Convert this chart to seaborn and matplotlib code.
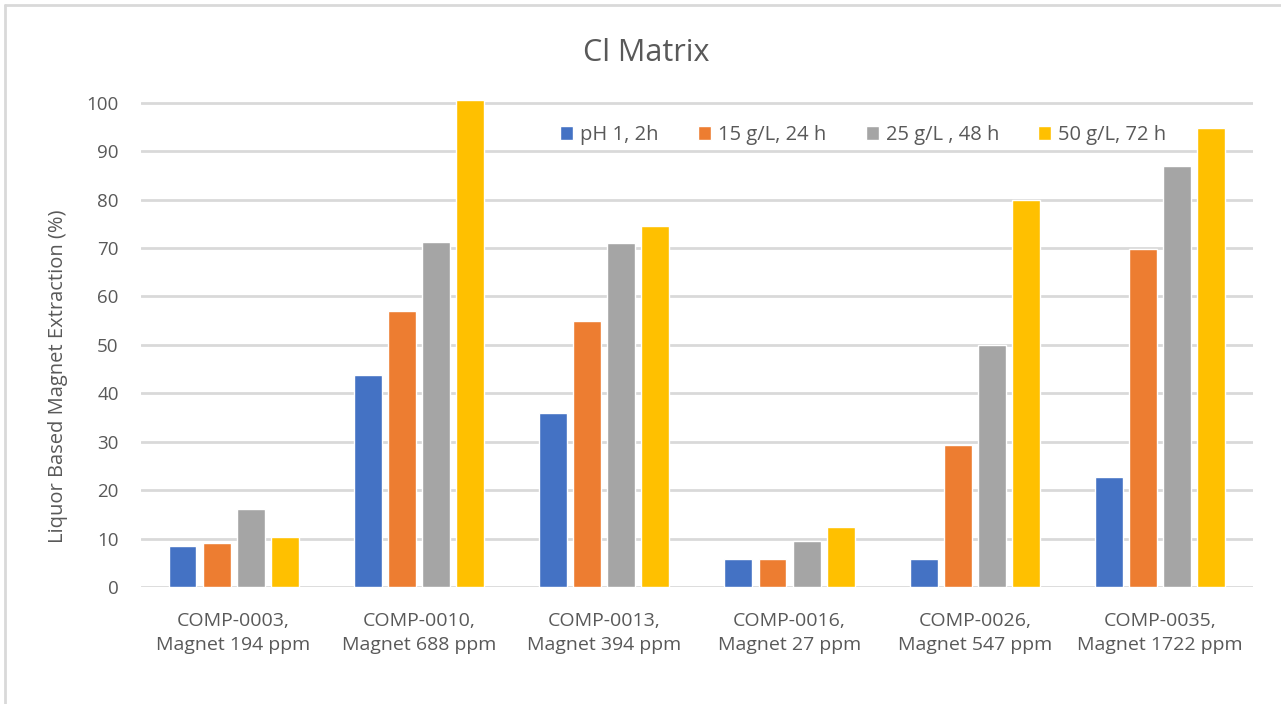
import pandas as pd
import matplotlib
matplotlib.use("Agg")
import matplotlib.pyplot as plt
import seaborn as sns
from matplotlib.lines import Line2D

# ----- data -----
samples = [
    "COMP-0003,\nMagnet 194 ppm",
    "COMP-0010,\nMagnet 688 ppm",
    "COMP-0013,\nMagnet 394 ppm",
    "COMP-0016,\nMagnet 27 ppm",
    "COMP-0026,\nMagnet 547 ppm",
    "COMP-0035,\nMagnet 1722 ppm",
]
conditions = ["pH 1, 2h", "15 g/L, 24 h", "25 g/L , 48 h", "50 g/L, 72 h"]

ph1_2h = [8.4, 43.8, 36.0, 5.9, 5.9, 22.8]
g15_24h = [9.2, 57.0, 55.0, 5.9, 29.3, 69.7]
g25_48h = [16.2, 71.3, 71.0, 9.6, 50.0, 87.0]
g50_72h = [10.4, 100.5, 74.6, 12.5, 80.0, 94.8]

colors = ["#4472C4", "#ED7D31", "#A5A5A5", "#FFC000"]
text_col = "#595959"

rows = []
for cond, vals in zip(conditions, [ph1_2h, g15_24h, g25_48h, g50_72h]):
    for s, v in zip(samples, vals):
        rows.append({"sample": s, "condition": cond, "value": v})
df = pd.DataFrame(rows)

sns.set_theme(style="white")
plt.rcParams["font.family"] = ["Open Sans", "DejaVu Sans"]

W, H = 1281, 704
fig = plt.figure(figsize=(W / 100, H / 100), dpi=100)
ax = fig.add_axes([0.110, 0.166, 0.868, 0.695])

sns.barplot(
    data=df, x="sample", y="value", hue="condition",
    order=samples, hue_order=conditions, palette=colors,
    width=0.735, gap=0.18, saturation=1, errorbar=None, ax=ax,
)

ax.set_ylim(0, 101)
ax.set_yticks(range(0, 101, 10))
ax.yaxis.grid(True, color="#d9d9d9", linewidth=2)
ax.set_axisbelow(True)
for sp in ax.spines.values():
    sp.set_visible(False)
ax.tick_params(axis="both", length=0, colors=text_col, labelsize=13.5)
ax.tick_params(axis="y", pad=16)
ax.tick_params(axis="x", pad=18, labelsize=14)
for lbl in ax.get_xticklabels():
    lbl.set_linespacing(1.45)

ax.set_xlabel("")
ax.set_ylabel("Liquor Based Magnet Extraction (%)", color=text_col, fontsize=14.5)
ax.yaxis.set_label_coords(-0.066, 0.43)

fig.text(646 / W, 1 - 61 / H, "Cl Matrix", color=text_col, fontsize=22,
         ha="center", va="baseline")

ax.get_legend().remove()
fig.legend(
    handles=ax.containers, labels=conditions,
    loc="center left", bbox_to_anchor=(560 / W, 1 - 135 / H), ncol=4,
    frameon=False, borderpad=0, borderaxespad=0,
    fontsize=14.5, labelcolor=text_col, handlelength=0.65, handleheight=0.65,
    handletextpad=0.35, columnspacing=1.95,
)

# light chart-area border (only left and top edges show in the crop)
fig.add_artist(Line2D([5 / W, 5 / W], [0, 1 - 5 / H], transform=fig.transFigure,
                      color="#d9d9d9", linewidth=2))
fig.add_artist(Line2D([5 / W, 1], [1 - 5 / H, 1 - 5 / H], transform=fig.transFigure,
                      color="#d9d9d9", linewidth=2))

fig.savefig("out.png", dpi=100)
